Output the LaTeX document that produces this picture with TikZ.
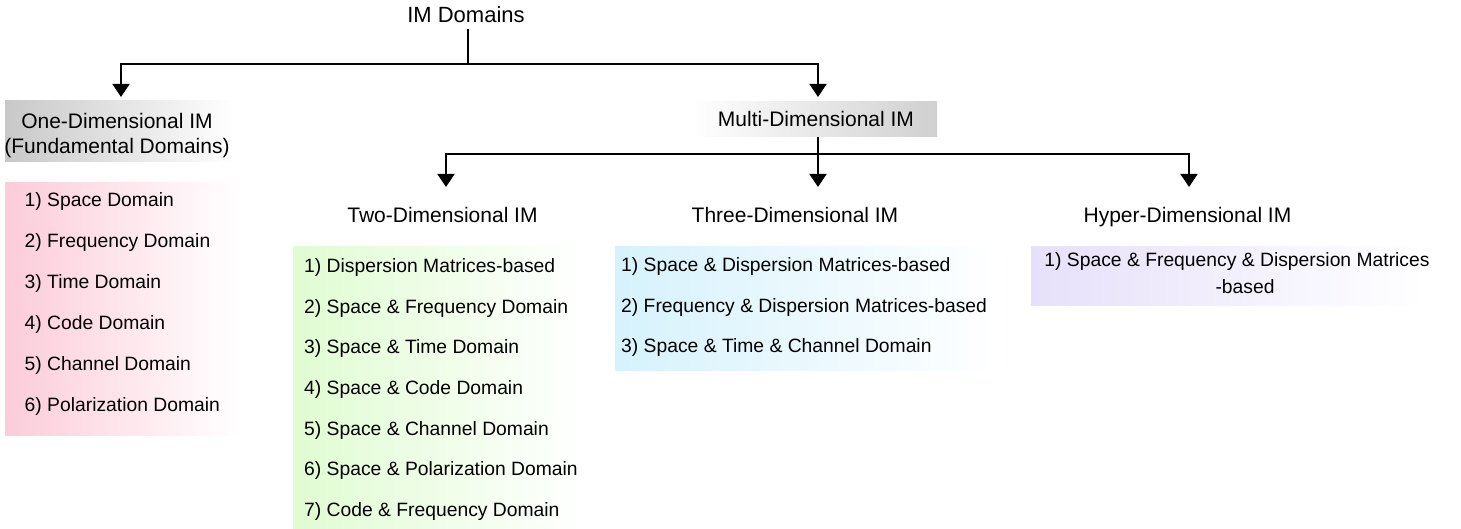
\documentclass[tikz,border=0pt]{standalone}
\usepackage{fontspec}
\setmainfont{Liberation Sans}
\usetikzlibrary{arrows.meta}
\definecolor{pinkc}{RGB}{252,204,218}
\definecolor{greenc}{RGB}{224,252,210}
\definecolor{bluec}{RGB}{214,242,252}
\definecolor{purplec}{RGB}{230,224,250}
\definecolor{grayc}{RGB}{200,200,200}
\definecolor{grayd}{RGB}{208,208,208}
\begin{document}
\begin{tikzpicture}[x=1pt,y=-1pt,
  conn/.style={line width=1.6pt},
  arr/.style={conn,-{Triangle[width=17pt,length=13pt]}},
  boxn/.style={inner sep=0pt, outer sep=0pt, anchor=north west},
  item/.style={inner sep=0pt, anchor=base west, font=\fontsize{19.3}{23}\selectfont},
  itemc/.style={inner sep=0pt, anchor=base, font=\fontsize{19.3}{23}\selectfont},
  head/.style={inner sep=0pt, anchor=base, font=\fontsize{21}{25}\selectfont},
]
\useasboundingbox (0,0) rectangle (1461,529);

% boxes
\node[boxn, minimum width=230pt, minimum height=61pt, left color=grayc, right color=white] (onebox) at (5,101) {};
\node[boxn, minimum width=244pt, minimum height=35pt, left color=white, right color=grayd] (multibox) at (693,102) {};
\node[boxn, minimum width=235pt, minimum height=252pt, left color=pinkc, right color=white] (pbox) at (5,183) {};
\node[boxn, minimum width=292pt, minimum height=282pt, left color=greenc, right color=white] (gbox) at (293,247) {};
\node[boxn, minimum width=385pt, minimum height=123pt, left color=bluec, right color=white] (bbox) at (615,247) {};
\node[boxn, minimum width=396pt, minimum height=58pt, left color=purplec, right color=white] (ubox) at (1031,247) {};

% headings
\node[head, font=\fontsize{22}{26}\selectfont] (root) at (466,23) {IM Domains};
\node[head] (one1) at (117,128.3) {One-Dimensional IM};
\node[head] (one2) at (117,153.3) {(Fundamental Domains)};
\node[head] (multi) at (816,126.7) {Multi-Dimensional IM};
\node[head] (two) at (442.5,223) {Two-Dimensional IM};
\node[head] (three) at (795,223) {Three-Dimensional IM};
\node[head] (hyper) at (1187.5,223) {Hyper-Dimensional IM};

% lists
\node[item] (p1) at (24.5,207) {1) Space Domain};
\node[item] (p2) at (24.5,247.8) {2) Frequency Domain};
\node[item] (p3) at (24.5,288.6) {3) Time Domain};
\node[item] (p4) at (24.5,329.4) {4) Code Domain};
\node[item] (p5) at (24.5,370.2) {5) Channel Domain};
\node[item] (p6) at (24.5,411) {6) Polarization Domain};

\node[item] (g1) at (304,272.5) {1) Dispersion Matrices-based};
\node[item] (g2) at (304,313.2) {2) Space \& Frequency Domain};
\node[item] (g3) at (304,353.8) {3) Space \& Time Domain};
\node[item] (g4) at (304,394.5) {4) Space \& Code Domain};
\node[item] (g5) at (304,435.2) {5) Space \& Channel Domain};
\node[item] (g6) at (304,475.8) {6) Space \& Polarization Domain};
\node[item] (g7) at (304,516.5) {7) Code \& Frequency Domain};

\node[item] (b1) at (621,271.5) {1) Space \& Dispersion Matrices-based};
\node[item] (b2) at (621,312.2) {2) Frequency \& Dispersion Matrices-based};
\node[item] (b3) at (621,352.8) {3) Space \& Time \& Channel Domain};

\node[itemc] (u1) at (1237,267) {1) Space \& Frequency \& Dispersion Matrices};
\node[itemc] (u2) at (1245,294) {-based};

% connectors
\coordinate (r0) at (468,29);
\coordinate (j0) at (468,64);
\coordinate (t1) at (121,97);
\coordinate (t2) at (818,97);
\draw[conn] (r0) -- (j0);
\draw[arr] (j0) -| (t1);
\draw[arr] (j0) -| (t2);

\coordinate (m0) at (818,137);
\coordinate (j1) at (818,154);
\coordinate (t3) at (446,187);
\coordinate (t4) at (818,187);
\coordinate (t5) at (1189,187);
\draw[conn] (m0) -- (j1);
\draw[arr] (j1) -| (t3);
\draw[arr] (j1) -- (t4);
\draw[arr] (j1) -| (t5);
\end{tikzpicture}
\end{document}
